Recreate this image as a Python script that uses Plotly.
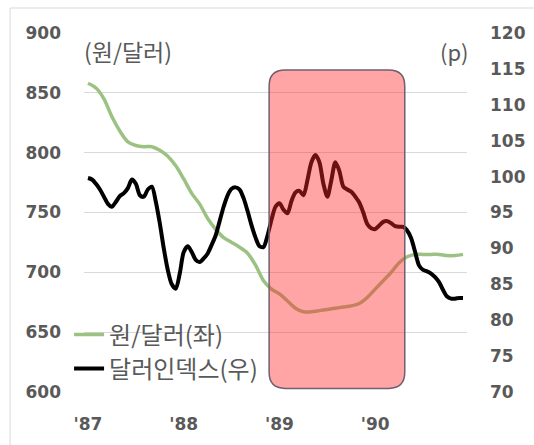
import plotly.graph_objects as go

# ---- data ----
tick_labels = ["'87", "'88", "'89", "'90"]
tick_months = [0, 12, 24, 36]

# KRW/USD, monthly Jan-1987 .. Dec-1990 (left axis)
krw_month = list(range(48))
krw_usd = [858, 854, 845, 830, 818, 809, 806, 805, 805, 802, 797, 789,
           778, 766, 757, 745, 736, 729, 725, 721, 716, 706, 693, 686,
           682, 676, 670, 667, 667, 668, 669, 670, 671, 672, 674, 679,
           686, 693, 700, 708, 713, 715, 715, 715, 715, 714, 714, 715]

# Dollar index, half-monthly (right axis)
dxy_month = [i * 0.5 for i in range(95)]
dxy = [99.8, 99.6, 99.0, 98.2, 97.2, 96.2, 95.8, 96.5, 97.3, 97.7,
       98.4, 99.6, 99.0, 97.4, 97.2, 98.2, 98.6, 96.5, 93.5, 90.0,
       87.0, 85.0, 84.4, 86.5, 89.5, 90.3, 89.5, 88.4, 88.1, 88.6,
       89.3, 90.5, 91.8, 93.8, 95.8, 97.4, 98.3, 98.5, 98.2, 97.0,
       95.2, 93.2, 91.5, 90.3, 90.2, 91.8, 94.0, 95.8, 96.3, 95.4,
       94.9, 96.6, 97.8, 98.0, 97.4, 99.5, 102.0, 103.0, 102.0, 99.0,
       97.2, 99.5, 102.0, 100.8, 98.6, 98.2, 97.9, 97.2, 96.4, 95.0,
       93.4, 92.8, 92.7, 93.2, 93.7, 93.8, 93.5, 93.1, 93.0, 93.0,
       92.5, 91.4, 89.5, 87.6, 87.0, 86.8, 86.5, 86.0, 85.3, 84.2,
       83.3, 83.0, 83.0, 83.1, 83.1]

series_names = ["원/달러(좌)", "달러인덱스(우)"]

# highlighted period (month index) and its vertical extent on the left axis
hl_x0, hl_x1 = 22.7, 39.7
hl_y0, hl_y1 = 603, 869

GRAY = "#595959"
FONT = "DejaVu Sans"
KFONT = "Noto Sans CJK KR"

fig = go.Figure()
fig.add_trace(go.Scatter(
    x=krw_month, y=krw_usd, name=series_names[0], mode="lines",
    line=dict(color="#9cc283", width=3.5, shape="spline", smoothing=0.8),
    yaxis="y"))
fig.add_trace(go.Scatter(
    x=dxy_month, y=dxy, name=series_names[1], mode="lines",
    line=dict(color="#000000", width=4, shape="spline", smoothing=0.8),
    yaxis="y2"))

# rounded rectangle highlight
rx, ry = 2.0, 13.4
x0, x1, y0, y1 = hl_x0, hl_x1, hl_y0, hl_y1
path = (f"M {x0+rx},{y0} L {x1-rx},{y0} Q {x1},{y0} {x1},{y0+ry} "
        f"L {x1},{y1-ry} Q {x1},{y1} {x1-rx},{y1} L {x0+rx},{y1} "
        f"Q {x0},{y1} {x0},{y1-ry} L {x0},{y0+ry} Q {x0},{y0} {x0+rx},{y0} Z")
fig.add_shape(type="path", path=path, xref="x", yref="y", layer="above",
              fillcolor="rgba(255,40,40,0.42)",
              line=dict(color="#6f6070", width=1.5))

# outer chart border (top & left visible)
fig.add_shape(type="rect", xref="paper", yref="paper",
              x0=-0.193, x1=1.4, y0=-0.4, y1=1.0696,
              line=dict(color="#d9d9d9", width=1), layer="below")

fig.add_annotation(text="(원/달러)", xref="paper", yref="paper",
                   x=-0.006, y=0.95, xanchor="left", yanchor="middle",
                   showarrow=False, font=dict(family=KFONT, size=23, color=GRAY))
fig.add_annotation(text="(p)", xref="paper", yref="paper",
                   x=1.01, y=0.95, xanchor="right", yanchor="middle",
                   showarrow=False, font=dict(family=KFONT, size=22, color=GRAY))

tickfont = dict(family=FONT, size=17, color=GRAY, weight="bold")

fig.update_layout(
    width=534, height=445,
    margin=dict(l=84, r=67, t=33, b=53, autoexpand=False),
    paper_bgcolor="white", plot_bgcolor="white",
    showlegend=True,
    legend=dict(x=-0.039, y=0.222, xanchor="left", yanchor="top",
                bgcolor="rgba(0,0,0,0)", tracegroupgap=0,
                font=dict(family=KFONT, size=24, color=GRAY)),
    xaxis=dict(range=[-0.5, 47.5], tickvals=tick_months, ticktext=tick_labels,
               showgrid=False, zeroline=False, showline=False,
               ticks="outside", ticklen=3, tickcolor="rgba(0,0,0,0)",
               tickfont=tickfont, ticklabelstandoff=14),
    yaxis=dict(range=[600, 900], dtick=50, showgrid=True, gridcolor="#d9d9d9",
               gridwidth=1, zeroline=False, showline=False, ticks="",
               tickfont=tickfont, ticklabelstandoff=22),
    yaxis2=dict(range=[70, 120], dtick=5, overlaying="y", side="right",
                showgrid=False, zeroline=False, showline=False, ticks="",
                tickfont=tickfont, ticklabelstandoff=22),
)

fig.write_html("out.html")
